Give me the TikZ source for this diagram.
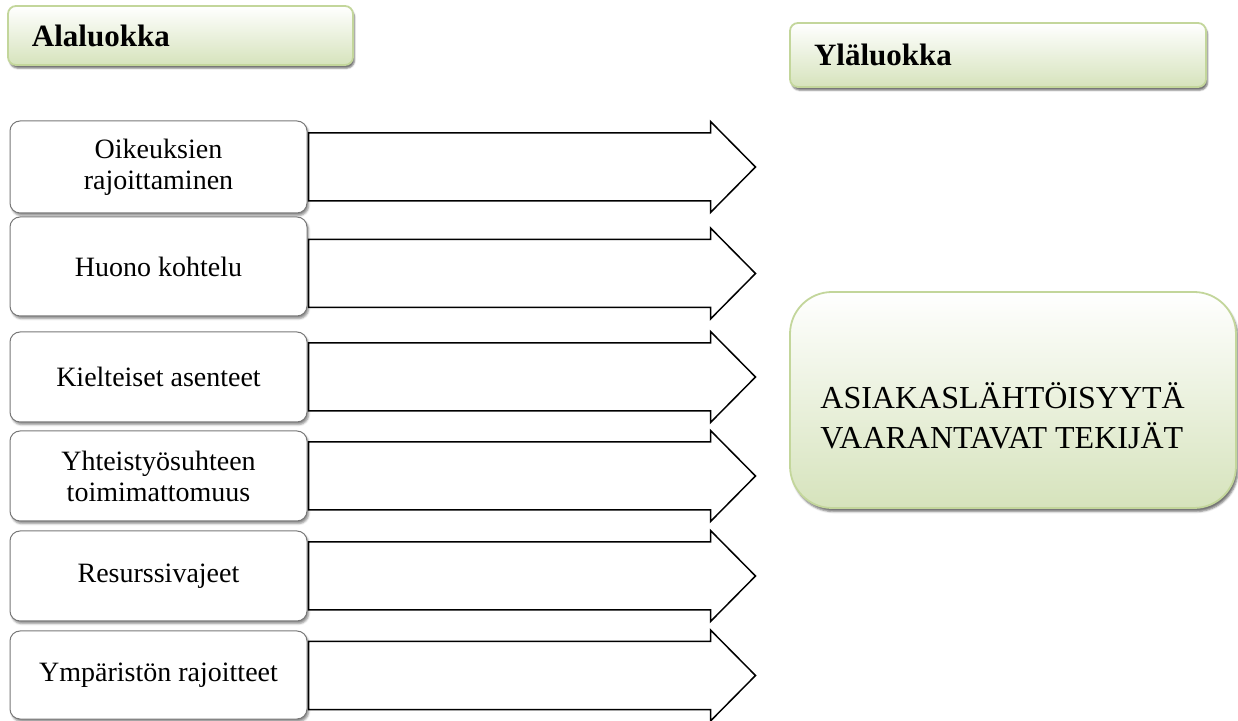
\documentclass[tikz,border=0pt]{standalone}
\usepackage{fontspec}
\setmainfont{Liberation Serif}
\usetikzlibrary{shadows.blur,calc}

\definecolor{greenline}{RGB}{195,214,155}
\definecolor{greenfill}{RGB}{214,227,188}
\definecolor{greenshadow}{RGB}{120,130,100}
\definecolor{boxline}{RGB}{120,120,120}

\tikzset{
  hdr/.style={rounded corners=4pt, draw=greenline, line width=0.9pt,
    top color=white, bottom color=greenfill,
    blur shadow={shadow xshift=0.8pt, shadow yshift=-1.6pt,
      shadow blur radius=0.8pt, shadow opacity=55, shadow blur steps=4},
    font=\fontsize{15.5}{18}\selectfont\bfseries,
    align=left, inner xsep=12pt, inner ysep=0pt},
  catbox/.style={rounded corners=5pt, draw=boxline, line width=0.5pt, fill=white,
    blur shadow={shadow xshift=0.8pt, shadow yshift=-1.3pt,
      shadow blur radius=1pt, shadow opacity=45, shadow blur steps=4},
    font=\fontsize{14}{15.5}\selectfont, align=center, inner sep=0pt,
    minimum width=148.5pt},
  mainbox/.style={rounded corners=21pt, draw=greenline, line width=0.9pt,
    top color=white, bottom color=greenfill,
    blur shadow={shadow xshift=1pt, shadow yshift=-1.8pt,
      shadow blur radius=1pt, shadow opacity=55, shadow blur steps=4},
    inner sep=0pt},
  maintext/.style={font=\fontsize{16}{20}\selectfont, align=left, inner sep=0pt},
  blockarrow/.style={draw=black, line width=0.75pt, fill=white, line join=miter}
}

\begin{document}
\begin{tikzpicture}[x=0.5pt, y=-0.5pt]
  \useasboundingbox (0,0) rectangle (1238,721);

  % headers
  \node[hdr, text width=148.5pt, minimum height=29.5pt] (sub) at (180.5,35.5) {Alaluokka};
  \node[hdr, text width=184pt, minimum height=32pt] (sup) at (998,55) {Yläluokka};

  % block arrows (drawn first so the boxes sit on top of their tails)
  \node[catbox, minimum height=46pt]   (b1) at (158.5,167)   {Oikeuksien\\rajoittaminen};
  \node[catbox, minimum height=49.5pt] (b2) at (158.5,266.5) {Huono kohtelu};
  \node[catbox, minimum height=45pt]   (b3) at (158.5,377)   {Kielteiset asenteet};
  \node[catbox, minimum height=45pt]   (b4) at (158.5,476)   {Yhteistyösuhteen\\toimimattomuus};
  \node[catbox, minimum height=45pt]   (b5) at (158.5,576)   {Resurssivajeet};
  \node[catbox, minimum height=44pt]   (b6) at (158.5,675)   {Ympäristön rajoitteet};

  \foreach \n/\o in {b1/0, b2/7, b3/0, b4/0, b5/0, b6/0.5}
    \draw[blockarrow] (\n.east) ++(1,\o-34) -- ++(402,0) -- ++(0,-11.5)
      -- ++(45,45.5) -- ++(-45,45.5) -- ++(0,-11.5) -- ++(-402,0) -- cycle;

  % main category
  \node[mainbox, minimum width=223pt, minimum height=108pt] (main) at (1013,400) {};
  \node[maintext, anchor=west] (maintxt) at (820,416)
    {ASIAKASLÄHTÖISYYTÄ\\VAARANTAVAT TEKIJÄT};
\end{tikzpicture}
\end{document}
